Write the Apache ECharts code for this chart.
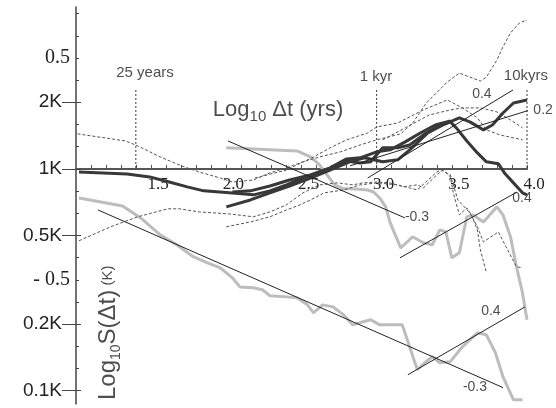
<!DOCTYPE html>
<html><head><meta charset="utf-8">
<script src="https://cdn.jsdelivr.net/npm/echarts@6/dist/echarts.min.js"></script>
<style>html,body{margin:0;padding:0;background:#fff}#c{width:556px;height:408px}</style>
</head><body><div id="c"></div>
<script>
// ---- axes ----
const xTickLabels = [1.5, 2.0, 2.5, 3.0, 3.5, 4.0];
const xMinorTicks = [1.1,1.2,1.3,1.4,1.5,1.6,1.7,1.8,1.9,2.0,2.1,2.2,2.3,2.4,2.5,2.6,2.7,2.8,2.9,3.0,3.1,3.2,3.3,3.4,3.5,3.6,3.7,3.8,3.9,4.0];
const yLabelValues = [0.5, 0.30103, 0, -0.30103, -0.5, -0.69897, -1];
const yLabelTexts = ['0.5', '2K', '1K', '0.5K', '- 0.5', '0.2K', '0.1K'];
const yMinorTicks = [0.7,0.6,0.5,0.4,0.3,0.2,0.1,0,-0.1,-0.2,-0.3,-0.4,-0.5,-0.6,-0.7,-0.8,-0.9,-1.0];
const yKTicks = [0.30103, 0, -0.30103, -0.69897, -1];

// ---- thick light grey curves ----
const grayA_x = [2.00,2.47,2.56,2.62,2.67,2.72,2.78,2.84,2.94,2.98,3.02,3.06,3.09,3.16,3.24,3.31,3.37,3.42,3.46,3.50,3.55,3.60,3.64,3.71,3.80,3.84,3.89,3.93,3.97,4.00];
const grayA_y = [0.095,0.081,0.054,0.018,-0.027,-0.072,-0.090,-0.090,-0.095,-0.104,-0.131,-0.171,-0.243,-0.356,-0.306,-0.333,-0.342,-0.275,-0.284,-0.401,-0.378,-0.216,-0.207,-0.239,-0.171,-0.207,-0.306,-0.441,-0.559,-0.680];
const grayB_x = [1.02,1.31,1.43,1.56,1.67,1.78,1.87,1.96,2.04,2.09,2.18,2.24,2.29,2.40,2.47,2.54,2.58,2.64,2.71,2.78,2.84,2.91,2.96,3.02,3.09,3.17,3.27,3.32,3.37,3.42,3.49,3.57,3.67,3.73,3.79,3.84,3.91,3.97];
const grayB_y = [-0.131,-0.167,-0.221,-0.297,-0.342,-0.396,-0.423,-0.446,-0.491,-0.532,-0.536,-0.545,-0.572,-0.577,-0.581,-0.613,-0.649,-0.613,-0.622,-0.658,-0.703,-0.689,-0.680,-0.703,-0.703,-0.703,-0.905,-0.874,-0.847,-0.874,-0.869,-0.802,-0.739,-0.748,-0.829,-0.937,-1.041,-1.041];

// ---- thick dark curves ----
const darkA_x = [1.02,1.34,1.49,1.62,1.74,1.85,2.02,2.18,2.29,2.40,2.51,2.62,2.74,2.80,2.89,2.96,3.04,3.14,3.22,3.32,3.40,3.49,3.53,3.60,3.67,3.73,3.81,3.85,3.91,3.97,4.00];
const darkA_y = [-0.014,-0.023,-0.036,-0.059,-0.081,-0.099,-0.108,-0.117,-0.099,-0.072,-0.041,-0.014,0.014,0.036,0.027,0.032,0.095,0.095,0.108,0.158,0.189,0.212,0.185,0.126,0.072,0.032,0.023,-0.018,-0.063,-0.108,-0.117];
const darkB_x = [2.00,2.16,2.29,2.42,2.56,2.69,2.82,2.92,3.04,3.14,3.22,3.34,3.44,3.55,3.62,3.71,3.77,3.84,3.91,4.00];
const darkB_y = [-0.171,-0.140,-0.108,-0.077,-0.041,-0.005,0.032,0.050,0.032,0.041,0.086,0.162,0.198,0.230,0.212,0.176,0.198,0.252,0.297,0.311];
const darkC_x = [2.04,2.16,2.29,2.42,2.56,2.69,2.80,2.89,3.00,3.09,3.19,3.29,3.39,3.49];
const darkC_y = [-0.104,-0.099,-0.077,-0.050,-0.027,0.005,0.045,0.050,0.077,0.086,0.122,0.162,0.198,0.216];

// ---- thin dashed curves ----
const dash1_x = [1.01,1.33,1.41,1.56,1.70,1.82,1.96,2.04,2.18,2.29,2.40,2.51,2.62,2.76,2.89,3.00,3.16,3.24,3.33,3.47,3.55,3.62,3.69,3.73,3.80,3.84,3.89,3.95,4.00];
const dash1_y = [0.158,0.126,0.104,0.054,0.014,-0.014,-0.041,-0.059,-0.050,-0.018,0.005,0.032,0.054,0.077,0.108,0.131,0.158,0.207,0.297,0.392,0.432,0.414,0.396,0.414,0.491,0.550,0.613,0.658,0.671];
const dash2_x = [1.02,1.23,1.41,1.61,1.69,1.82,2.02,2.18,2.29,2.40,2.51,2.62,2.74,2.84,2.91,3.00,3.09,3.18,3.27,3.31,3.40,3.44,3.49,3.51,3.55,3.60,3.63,3.67,3.69,3.73];
const dash2_y = [-0.324,-0.261,-0.216,-0.180,-0.180,-0.194,-0.203,-0.216,-0.194,-0.162,-0.108,-0.072,-0.063,-0.072,-0.063,-0.059,-0.063,-0.081,-0.072,-0.086,-0.027,-0.005,-0.036,-0.108,-0.207,-0.176,-0.207,-0.275,-0.365,-0.468];
const dash3_x = [2.00,2.16,2.29,2.40,2.49,2.56,2.65,2.78,2.89,3.00,3.14,3.22,3.27,3.40,3.43,3.49,3.54,3.62,3.67,3.71,3.81,3.86,3.93,3.97];
const dash3_y = [-0.261,-0.239,-0.216,-0.185,-0.162,-0.140,-0.108,-0.095,-0.072,-0.063,-0.072,-0.086,-0.095,-0.014,-0.005,-0.027,-0.140,-0.198,-0.261,-0.329,-0.284,-0.351,-0.441,-0.446];
const dash4_x = [2.19,2.40,2.58,2.69,2.80,2.94,3.00,3.14,3.31,3.47,3.57,3.67,3.73,3.82,3.91,3.97];
const dash4_y = [-0.041,-0.005,0.054,0.095,0.131,0.162,0.189,0.207,0.266,0.311,0.275,0.230,0.176,0.153,0.140,0.131];
const dash5_x = [3.04,3.19,3.35,3.49,3.57,3.69,3.80,3.89,3.97];
const dash5_y = [0.131,0.185,0.243,0.266,0.275,0.275,0.257,0.221,0.185];

// ---- straight slope lines (start/end) ----
const fitX = [[1.146,3.840],[2.011,3.188],[2.94,3.907],[2.823,4.04],[3.155,3.934],[3.208,3.987]];
const fitY = [[-0.185,-0.986],[0.126,-0.221],[-0.041,0.356],[0.014,0.270],[-0.401,-0.104],[-0.928,-0.622]];
const slopeText = ['0.4','0.2','-0.3','0.4','0.4','-0.3'];
const slopeX = [3.70,4.107,3.268,3.967,3.76,3.654];
const slopeY = [0.338,0.266,-0.216,-0.131,-0.640,-0.982];

// ---- time markers ----
const markX = [1.398, 3.0, 4.0];
const markTop = 0.356;
const markText = ['25 years', '1 kyr', '10kyrs'];
const markTextX = [1.459, 2.996, 3.993];
const markTextY = [0.432, 0.414, 0.419];

// ---- axis titles (anchor in data space) ----
const xTitlePos = [2.344, 0.266];
const yTitlePos = [1.213, -0.739];

const zip = (xs, ys) => xs.map((x, i) => [x, ys[i]]);
const SANS = 'Liberation Sans, Arial, sans-serif';
const SERIF = 'Liberation Serif, Times New Roman, serif';

const series = [];
function line(xs, ys, style, z) {
  series.push({type:'line', data: zip(xs, ys), showSymbol:false, symbol:'none', clip:false,
    lineStyle: style, z: z, silent:true, animation:false});
}
line(grayA_x, grayA_y, {color:'#bdbdbd', width:3}, 2);
line(grayB_x, grayB_y, {color:'#bdbdbd', width:3}, 2);
line(dash1_x, dash1_y, {color:'#555', width:1, type:[3,2]}, 3);
line(dash2_x, dash2_y, {color:'#555', width:1, type:[3,2]}, 3);
line(dash3_x, dash3_y, {color:'#555', width:1, type:[3,2]}, 3);
line(dash4_x, dash4_y, {color:'#555', width:1, type:[3,2]}, 3);
line(dash5_x, dash5_y, {color:'#555', width:1, type:[3,2]}, 3);
line(darkA_x, darkA_y, {color:'#383838', width:3}, 4);
line(darkB_x, darkB_y, {color:'#383838', width:3}, 4);
line(darkC_x, darkC_y, {color:'#383838', width:3}, 4);
fitX.forEach((xs, i) => line(xs, fitY[i], {color:'#222', width:1}, 5));
markX.forEach(x => line([x, x], [markTop, 0], {color:'#333', width:1, type:[2,2]}, 3));

function texts(xs, ys, labels, labelOpt) {
  series.push({type:'scatter', clip:false, silent:true, animation:false, symbolSize:1,
    itemStyle:{color:'rgba(0,0,0,0)'}, z: 6,
    data: xs.map((x, i) => ({value:[x, ys[i]], label: Object.assign({show:true, position:'inside', formatter: labels[i]}, labelOpt)}))});
}
texts(slopeX, slopeY, slopeText, {fontFamily: SANS, fontSize: 14, color:'#222'});
texts(markTextX, markTextY, markText, {fontFamily: SANS, fontSize: 15, color:'#222'});
texts([xTitlePos[0]], [xTitlePos[1]], ['{a|Log}{s|10}{a| Δt (yrs)}'], {
  color:'#222',
  rich: {
    a: {fontFamily: SANS, fontSize: 22, lineHeight: 28, color:'#222'},
    s: {fontFamily: SANS, fontSize: 15, lineHeight: 16, verticalAlign:'bottom', color:'#222'}
  }
});
texts([yTitlePos[0]], [yTitlePos[1]], ['{a|Log}{s|10}{a|S(Δt)}{k| (K)}'], {
  color:'#222', rotate: 90,
  rich: {
    a: {fontFamily: SANS, fontSize: 24, lineHeight: 30, color:'#222'},
    s: {fontFamily: SANS, fontSize: 14, lineHeight: 15, verticalAlign:'bottom', color:'#222'},
    k: {fontFamily: SANS, fontSize: 15, lineHeight: 30, color:'#222'}
  }
});

const YMIN = -1.06, YMAX = 0.73;
const GRID_TOP = 7, GRID_BOTTOM = 4, H = 408;
// place the x axis line at y = 0 (1K) by shifting it up from the grid bottom
const gridH = H - GRID_TOP - GRID_BOTTOM;
const zeroOffset = -gridH * (0 - YMIN) / (YMAX - YMIN);

const chart = echarts.init(document.getElementById('c'), null, {renderer:'canvas'});
chart.setOption({
  animation: false,
  backgroundColor: '#fff',
  grid: {left: 76, right: 29, top: GRID_TOP, bottom: GRID_BOTTOM, containLabel: false},
  xAxis: {
    type:'value', min: 1, max: 4, position:'bottom', offset: zeroOffset,
    axisLine: {show:true, onZero:false, lineStyle:{color:'#555', width:2}},
    axisTick: {show:true, inside:true, length:4, customValues: xMinorTicks, lineStyle:{color:'#555', width:1}},
    axisLabel: {show:true, customValues: xTickLabels, margin: 7, padding:[0,0,0,14],
      fontFamily: SERIF, fontSize: 17, color:'#222', formatter: v => v.toFixed(1)},
    splitLine: {show:false}
  },
  yAxis: [
    {
      type:'value', min: YMIN, max: YMAX, position:'left',
      axisLine: {show:true, onZero:false, lineStyle:{color:'#444', width:1.5}},
      axisTick: {show:true, inside:true, length:3, customValues: yMinorTicks, lineStyle:{color:'#444', width:1}},
      axisLabel: {show:true, customValues: yLabelValues, margin: 6,
        formatter: v => {
          let best = 0;
          yLabelValues.forEach((y, i) => { if (Math.abs(y - v) < Math.abs(yLabelValues[best] - v)) best = i; });
          const t = yLabelTexts[best];
          return t.indexOf('K') >= 0 ? '{k|' + t + '}' : '{s|' + t + '}';
        },
        rich: {
          s: {fontFamily: SERIF, fontSize: 20, color:'#222'},
          k: {fontFamily: SANS, fontSize: 19, color:'#222', padding:[0,8,0,0]}
        }
      },
      splitLine: {show:false}
    },
    {
      type:'value', min: YMIN, max: YMAX, position:'left',
      axisLine: {show:false, onZero:false},
      axisTick: {show:true, inside:false, length:14, customValues: yKTicks, lineStyle:{color:'#444', width:1}},
      axisLabel: {show:false}, splitLine: {show:false}
    },
    {
      type:'value', min: YMIN, max: YMAX, position:'left',
      axisLine: {show:false, onZero:false},
      axisTick: {show:true, inside:true, length:5, customValues: yKTicks, lineStyle:{color:'#444', width:1}},
      axisLabel: {show:false}, splitLine: {show:false}
    }
  ],
  series: series
});
</script>
</body></html>
